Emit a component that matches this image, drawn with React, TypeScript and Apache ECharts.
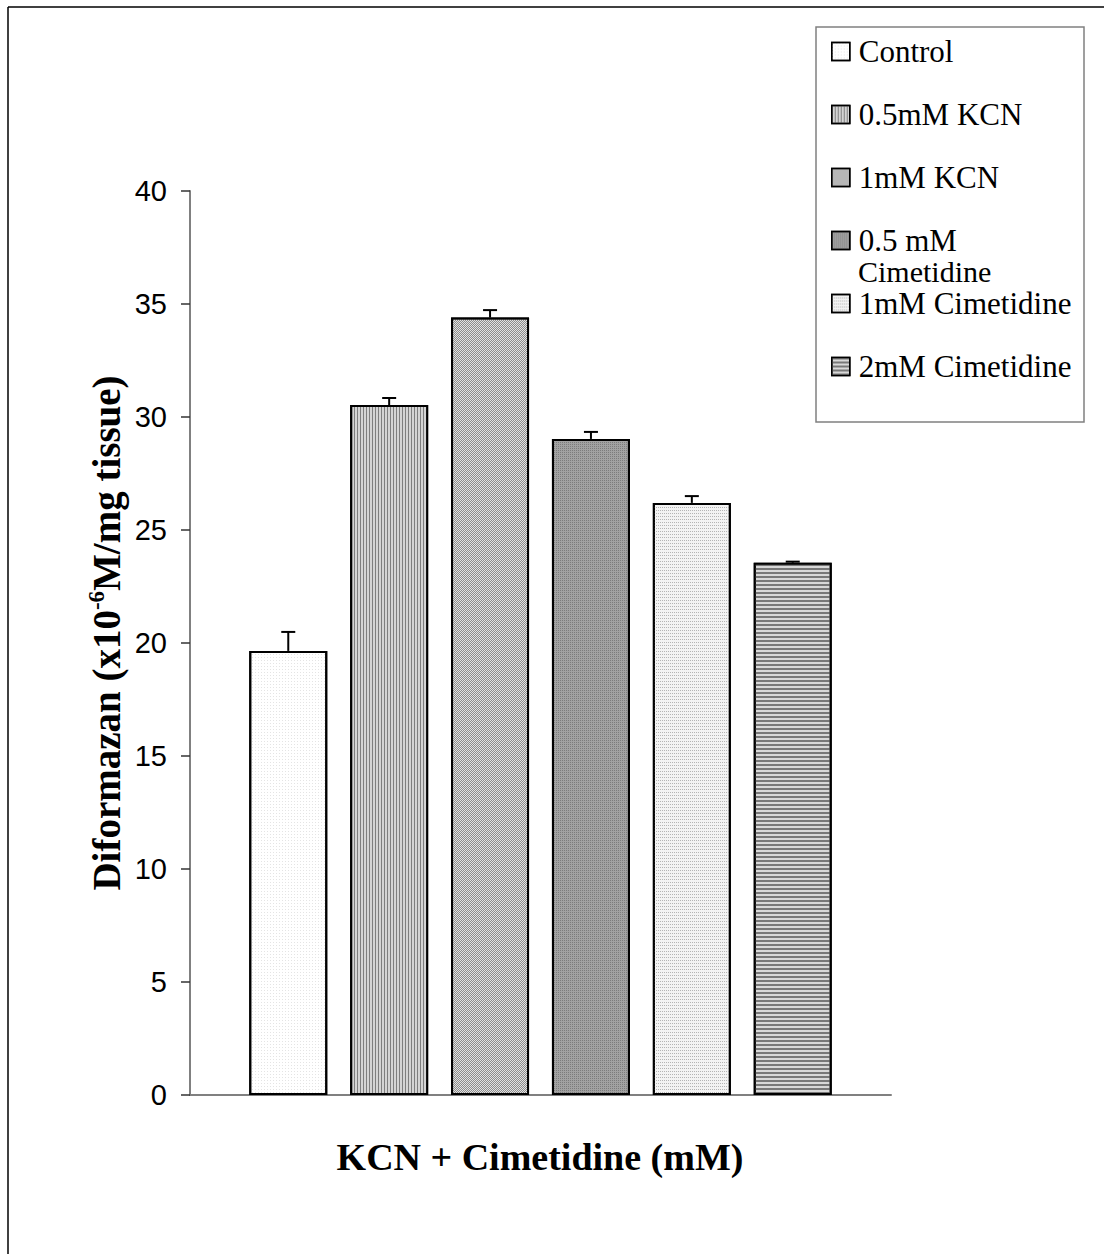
import React, { useEffect, useRef } from 'react';
import * as echarts from 'echarts';

// ---- data ----
const seriesNames = ['Control', '0.5mM KCN', '1mM KCN', '0.5 mM Cimetidine', '1mM Cimetidine', '2mM Cimetidine'];
const positions = [1, 2, 3, 4, 5, 6];
const means = [19.65, 30.53, 34.4, 29.03, 26.2, 23.55];
const errorsPlus = [0.84, 0.31, 0.33, 0.31, 0.3, 0.05];
const yAxisMin = 0;
const yAxisMax = 40;
const yAxisStep = 5;
const yTitle = ['Diformazan (x10', '-6', 'M/mg tissue)'];
const xTitle = 'KCN + Cimetidine (mM)';

// ---- styles ----
const fills = ['#ffffff', '#d4d4d4', '#e2e2e2', '#a2a2a2', '#f3f3f3', '#d8d8d8'];
const decals: any[] = [
  { symbol: 'rect', symbolSize: 1, color: '#e4e4e4', dashArrayX: [1, 2], dashArrayY: [1, 2] },
  { symbol: 'rect', symbolSize: 1, color: '#7e7e7e', dashArrayX: [1, 2], dashArrayY: [10, 0] },
  { symbol: 'rect', symbolSize: 1, color: '#8c8c8c', dashArrayX: [[1, 1], [0, 1, 1, 0]], dashArrayY: [1, 0] },
  { symbol: 'rect', symbolSize: 1, color: '#7c7c7c', dashArrayX: [1, 1], dashArrayY: [1, 1] },
  { symbol: 'rect', symbolSize: 1, color: '#b4b4b4', dashArrayX: [1, 1], dashArrayY: [1, 2] },
  { symbol: 'rect', symbolSize: 1, color: '#787878', dashArrayX: [10, 0], dashArrayY: [2, 2] },
];

const SERIF = '"Liberation Serif", "Times New Roman", serif';
const SANS = '"Liberation Sans", Arial, sans-serif';

export default function App() {
  const ref = useRef<HTMLDivElement>(null);

  useEffect(() => {
    if (!ref.current) return;
    const chart = echarts.init(ref.current, null, { renderer: 'svg' });

    const barSeries = seriesNames.map((name, i) => ({
      name,
      type: 'bar',
      data: [[positions[i], means[i]]],
      barWidth: 78,
      barGap: '-100%',
      itemStyle: {
        color: fills[i],
        borderColor: '#000',
        borderWidth: 2,
        decal: decals[i],
      },
      emphasis: { disabled: true },
      z: 2,
    }));

    const errData = positions.map((p, i) => [p, means[i], means[i] + errorsPlus[i]]);

    const errSeries = {
      name: 'error',
      type: 'custom',
      data: errData,
      encode: { x: 0, y: [1, 2] },
      z: 5,
      renderItem: (params: any, api: any) => {
        const x = api.value(0);
        const base = api.coord([x, api.value(1)]);
        const top = api.coord([x, api.value(2)]);
        const cap = 7;
        return {
          type: 'group',
          children: [
            { type: 'line', shape: { x1: base[0], y1: base[1], x2: top[0], y2: top[1] }, style: { stroke: '#000', lineWidth: 2 } },
            { type: 'line', shape: { x1: top[0] - cap, y1: top[1], x2: top[0] + cap, y2: top[1] }, style: { stroke: '#000', lineWidth: 2 } },
          ],
        };
      },
    };

    const option: any = {
      animation: false,
      backgroundColor: '#ffffff',
      grid: { left: 190, right: 213, top: 191, bottom: 159, containLabel: false },
      xAxis: {
        type: 'value',
        min: 0.026,
        max: 6.974,
        axisLine: { show: true, lineStyle: { color: '#808080', width: 2 } },
        axisTick: { show: false },
        axisLabel: { show: false },
        splitLine: { show: false },
      },
      yAxis: {
        type: 'value',
        min: yAxisMin,
        max: yAxisMax,
        interval: yAxisStep,
        axisLine: { show: true, lineStyle: { color: '#808080', width: 2 } },
        axisTick: { show: true, length: 9, lineStyle: { color: '#333', width: 1.5 } },
        axisLabel: { fontFamily: SANS, fontSize: 29, color: '#000', margin: 23 },
        splitLine: { show: false },
      },
      legend: {
        data: seriesNames,
        orient: 'vertical',
        left: 831,
        top: 36,
        padding: 0,
        itemWidth: 18,
        itemHeight: 18,
        itemGap: 32,
        icon: 'rect',
        selectedMode: false,
        formatter: (n: string) => (n === '0.5 mM Cimetidine' ? '0.5 mM' : n),
        textStyle: { fontFamily: SERIF, fontSize: 31, color: '#000', lineHeight: 30, padding: [0, 0, 0, 4] },
        itemStyle: { borderColor: '#000', borderWidth: 1.5 },
      },
      graphic: [
        { type: 'line', shape: { x1: 8, y1: 7, x2: 1104, y2: 7 }, style: { stroke: '#000', lineWidth: 1.5 } },
        { type: 'line', shape: { x1: 8, y1: 7, x2: 8, y2: 1254 }, style: { stroke: '#000', lineWidth: 1.5 } },
        { type: 'rect', shape: { x: 816, y: 27, width: 268, height: 395 }, style: { fill: 'none', stroke: '#808080', lineWidth: 1.5 }, z: -1 },
        {
          type: 'text',
          x: 858,
          y: 271,
          style: { text: 'Cimetidine', fontFamily: SERIF, fontSize: 30, fill: '#000', align: 'left', verticalAlign: 'middle' },
        },
        {
          type: 'text',
          x: 540,
          y: 1157,
          style: { text: xTitle, fontFamily: SERIF, fontSize: 38, fontWeight: 'bold', fill: '#000', align: 'center', verticalAlign: 'middle' },
        },
        {
          type: 'text',
          x: 106,
          y: 633,
          rotation: Math.PI / 2,
          style: {
            text: `{b|${yTitle[0]}}{s|${yTitle[1]}}{b|${yTitle[2]}}`,
            align: 'center',
            verticalAlign: 'middle',
            fill: '#000',
            rich: {
              b: { fontFamily: SERIF, fontSize: 39, fontWeight: 'bold', fill: '#000', lineHeight: 42 },
              s: { fontFamily: SERIF, fontSize: 23, fontWeight: 'bold', fill: '#000', verticalAlign: 'top', lineHeight: 42 },
            },
          },
        },
      ],
      series: [...barSeries, errSeries],
    };

    chart.setOption(option);
    return () => chart.dispose();
  }, []);

  return <div ref={ref} style={{ position: 'absolute', left: 0, top: 0, width: 1104, height: 1254 }} />;
}
